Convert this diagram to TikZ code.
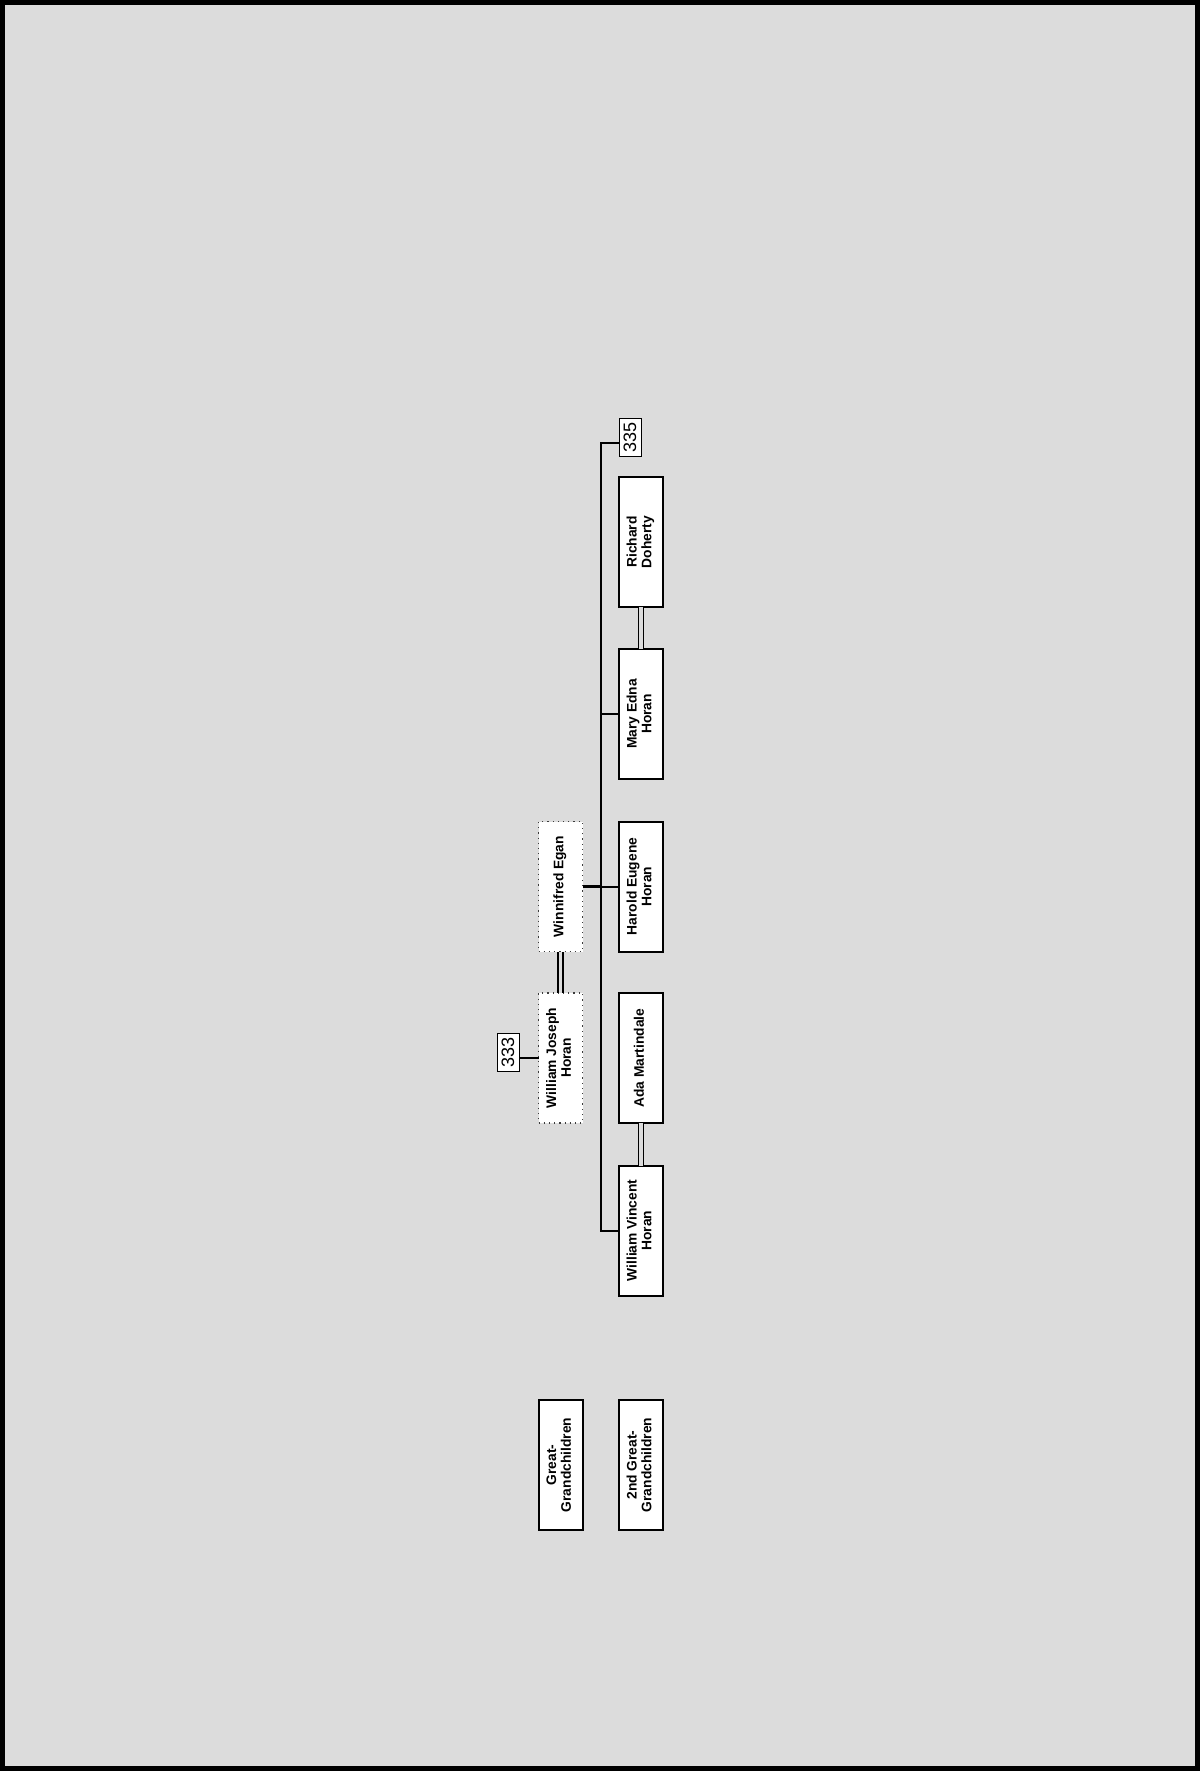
\documentclass[tikz,border=0pt]{standalone}
\usepackage{fontspec}
\setmainfont{Liberation Sans}
\usepackage{graphicx}
\usetikzlibrary{positioning,calc}
\usepackage{xcolor}
\definecolor{PageBg}{RGB}{220,220,220}
\definecolor{DotGray}{RGB}{60,60,60}
\newcommand{\vname}[1]{\rotatebox{90}{\begin{tabular}{@{}c@{}}#1\end{tabular}}}
\tikzset{
  pbox/.style={rectangle,draw=black,fill=white,line width=1pt,
               font=\fontsize{6.9}{7.4}\selectfont\bfseries,
               minimum width=22pt,minimum height=65pt,inner sep=1pt,outer sep=0pt},
  pdot/.style={pbox,draw=DotGray,line width=0.6pt,dotted},
  plabel/.style={rectangle,draw=black,fill=white,line width=0.5pt,
                 font=\fontsize{9}{10}\selectfont,minimum width=11pt,
                 minimum height=19pt,inner sep=0.5pt,outer sep=0pt},
  pedge/.style={black,line width=1pt},
  pmarry/.style={black,double=PageBg,line width=0.8pt,double distance=1.7pt},
}

\begin{document}
\begin{tikzpicture}[x=0.5pt,y=-0.5pt]
    \useasboundingbox (0,0) rectangle (1200,1771);
    \draw[fill=PageBg,line width=2.5pt] (2.5,2.5) rectangle (1197.5,1768.5);
    % great-grandchildren
    \node[pdot] (wjh) at (560.5,1058) {\vname{William Joseph\\Horan}};
    \node[pdot] (we) at (560.5,886.5) {\vname{Winnifred Egan}};
    \node[plabel] (lab333) at (508,1052) {\rotatebox{90}{333}};
    % 2nd great-grandchildren
    \node[pbox] (wvh) at (641,1230.5) {\vname{William Vincent\\Horan}};
    \node[pbox] (am) at (641,1058) {\vname{Ada Martindale}};
    \node[pbox] (heh) at (641,886.5) {\vname{Harold Eugene\\Horan}};
    \node[pbox] (meh) at (641,714) {\vname{Mary Edna\\Horan}};
    \node[pbox] (rd) at (641,542) {\vname{Richard\\Doherty}};
    \node[plabel] (lab335) at (630,437) {\rotatebox{90}{335}};
    % generation keys
    \node[pbox] (gg) at (560.5,1465) {\vname{Great-\\Grandchildren}};
    \node[pbox] (ggg) at (641,1465) {\vname{2nd Great-\\Grandchildren}};
    % lines
    \coordinate (rail) at (601,443);
    \draw[pedge] (rail -| lab335.west) -- (rail) -- (rail |- wvh.west) -- (wvh.west);
    \draw[pedge] (rail |- meh.west) -- (meh.west);
    \draw[pedge] (rail |- heh.west) -- (heh.west);
    \draw[black,line width=1.6pt] (we.east) -- (rail |- we.east);
    \draw[pedge] (lab333.east |- wjh.west) -- (wjh.west);
    \draw[pmarry] (wjh.north) -- (we.south);
    \draw[pmarry] (wvh.north) -- (am.south);
    \draw[pmarry] (meh.north) -- (rd.south);
\end{tikzpicture}
\end{document}
